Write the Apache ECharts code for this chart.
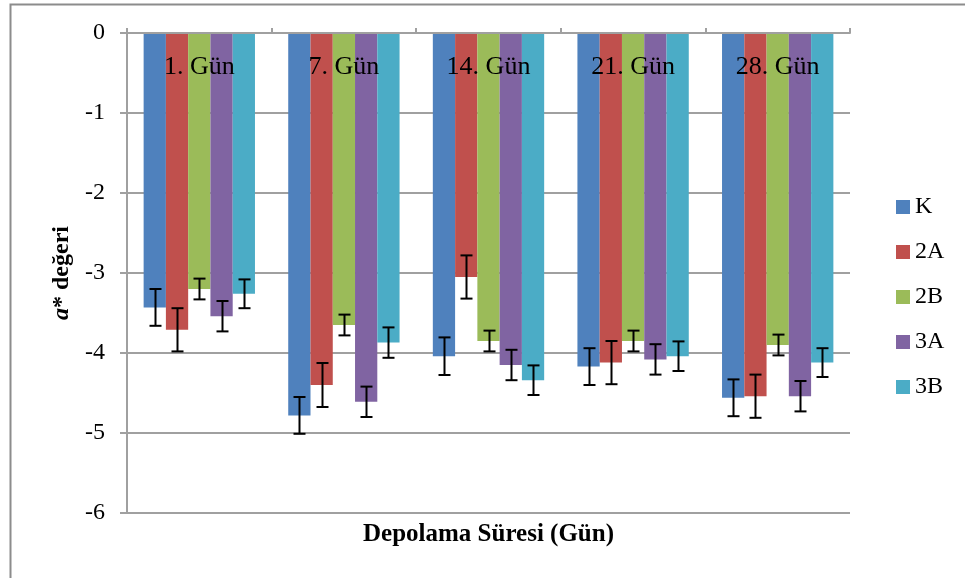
<!DOCTYPE html>
<html>
<head>
<meta charset="utf-8">
<script src="https://cdn.jsdelivr.net/npm/echarts@6/dist/echarts.min.js"></script>
<style>
html,body{margin:0;padding:0;background:#fff;}
#c{width:965px;height:578px;}
</style>
</head>
<body>
<div id="c"></div>
<script>
var categories = ['1. Gün', '7. Gün', '14. Gün', '21. Gün', '28. Gün'];
var seriesNames = ['K', '2A', '2B', '3A', '3B'];
var valK  = [-3.43, -4.78, -4.04, -4.17, -4.56];
var val2A = [-3.71, -4.40, -3.05, -4.12, -4.54];
var val2B = [-3.20, -3.65, -3.85, -3.85, -3.90];
var val3A = [-3.54, -4.61, -4.15, -4.08, -4.54];
var val3B = [-3.26, -3.87, -4.34, -4.04, -4.12];
var errK  = [0.23, 0.23, 0.235, 0.23, 0.23];
var err2A = [0.27, 0.275, 0.27, 0.27, 0.27];
var err2B = [0.13, 0.13, 0.13, 0.13, 0.13];
var err3A = [0.19, 0.19, 0.19, 0.19, 0.19];
var err3B = [0.18, 0.19, 0.185, 0.185, 0.18];
var yTicks = ['0', '-1', '-2', '-3', '-4', '-5', '-6'];

var values = [valK, val2A, val2B, val3A, val3B];
var errors = [errK, err2A, err2B, err3A, err3B];
var colors = ['#4F81BD', '#C0504D', '#9BBB59', '#8064A2', '#4BACC6'];
var FONT = '"Liberation Serif", "Times New Roman", serif';
var CAT_GAP = 0.23;

var errData = [];
values.forEach(function (vals, s) {
  vals.forEach(function (v, i) {
    errData.push([i, v - errors[s][i], v + errors[s][i], s]);
  });
});

var series = seriesNames.map(function (n, s) {
  return {
    name: n,
    type: 'bar',
    data: values[s],
    itemStyle: { color: colors[s] },
    barGap: '0%',
    barCategoryGap: (CAT_GAP * 100) + '%',
    z: 2
  };
});

series.push({
  name: 'err',
  type: 'custom',
  z: 5,
  data: errData,
  encode: { x: 0, y: [1, 2] },
  renderItem: function (params, api) {
    var cat = api.value(0), lo = api.value(1), hi = api.value(2), s = api.value(3);
    var bandW = api.size([1, 0])[0];
    var bw = bandW * (1 - CAT_GAP) / seriesNames.length;
    var x = api.coord([cat, 0])[0] + (s - (seriesNames.length - 1) / 2) * bw;
    x = Math.round(x) + 0.5;
    var y1 = api.coord([cat, lo])[1];
    var y2 = api.coord([cat, hi])[1];
    var hw = 6;
    var st = { stroke: '#000', lineWidth: 2 };
    return {
      type: 'group',
      children: [
        { type: 'line', shape: { x1: x, y1: y1, x2: x, y2: y2 }, style: st },
        { type: 'line', shape: { x1: x - hw, y1: y1, x2: x + hw, y2: y1 }, style: st },
        { type: 'line', shape: { x1: x - hw, y1: y2, x2: x + hw, y2: y2 }, style: st }
      ]
    };
  }
});

var chart = echarts.init(document.getElementById('c'), null, { renderer: 'canvas' });
chart.setOption({
  animation: false,
  backgroundColor: '#fff',
  textStyle: { fontFamily: FONT },
  grid: { left: 127, right: 115, top: 33, bottom: 65, containLabel: false },
  legend: {
    orient: 'vertical',
    left: 891,
    top: 190,
    itemWidth: 14,
    itemHeight: 14,
    itemGap: 21,
    icon: 'rect',
    data: seriesNames,
    textStyle: { fontFamily: FONT, fontSize: 24, color: '#000', lineHeight: 24 }
  },
  xAxis: {
    type: 'category',
    data: categories,
    position: 'top',
    z: 10,
    axisLine: { show: true, onZero: true, lineStyle: { color: '#a0a0a0', width: 2 } },
    axisTick: { show: true, length: 5, lineStyle: { color: '#a0a0a0', width: 2 } },
    axisLabel: { inside: true, margin: 21, color: '#000', fontFamily: FONT, fontSize: 26 },
    splitLine: { show: false }
  },
  yAxis: {
    type: 'value',
    min: -6,
    max: 0,
    interval: 1,
    name: '{i|a}{b|* değeri}',
    nameLocation: 'middle',
    nameGap: 50,
    nameRotate: 90,
    nameTextStyle: {
      rich: {
        i: { fontFamily: FONT, fontSize: 24, fontWeight: 'bold', fontStyle: 'italic', color: '#000' },
        b: { fontFamily: FONT, fontSize: 24, fontWeight: 'bold', color: '#000' }
      }
    },
    axisLine: { show: true, lineStyle: { color: '#a0a0a0', width: 2 } },
    axisTick: { show: true, length: 7, lineStyle: { color: '#a0a0a0', width: 2 } },
    axisLabel: {
      margin: 22,
      color: '#000',
      fontFamily: FONT,
      fontSize: 24,
      formatter: function (v) { return yTicks[Math.round(-v)]; }
    },
    splitLine: { show: true, lineStyle: { color: '#a0a0a0', width: 2 } }
  },
  graphic: [
    {
      type: 'rect',
      shape: { x: 10.5, y: 4.5, width: 1000, height: 700 },
      style: { fill: 'none', stroke: '#8c8c8c', lineWidth: 2 },
      silent: true
    },
    {
      type: 'text',
      x: 488.5,
      y: 535,
      style: {
        text: 'Depolama Süresi (Gün)',
        font: 'bold 25px ' + FONT,
        fill: '#000',
        textAlign: 'center',
        textVerticalAlign: 'middle'
      }
    }
  ],
  series: series
});
</script>
</body>
</html>
